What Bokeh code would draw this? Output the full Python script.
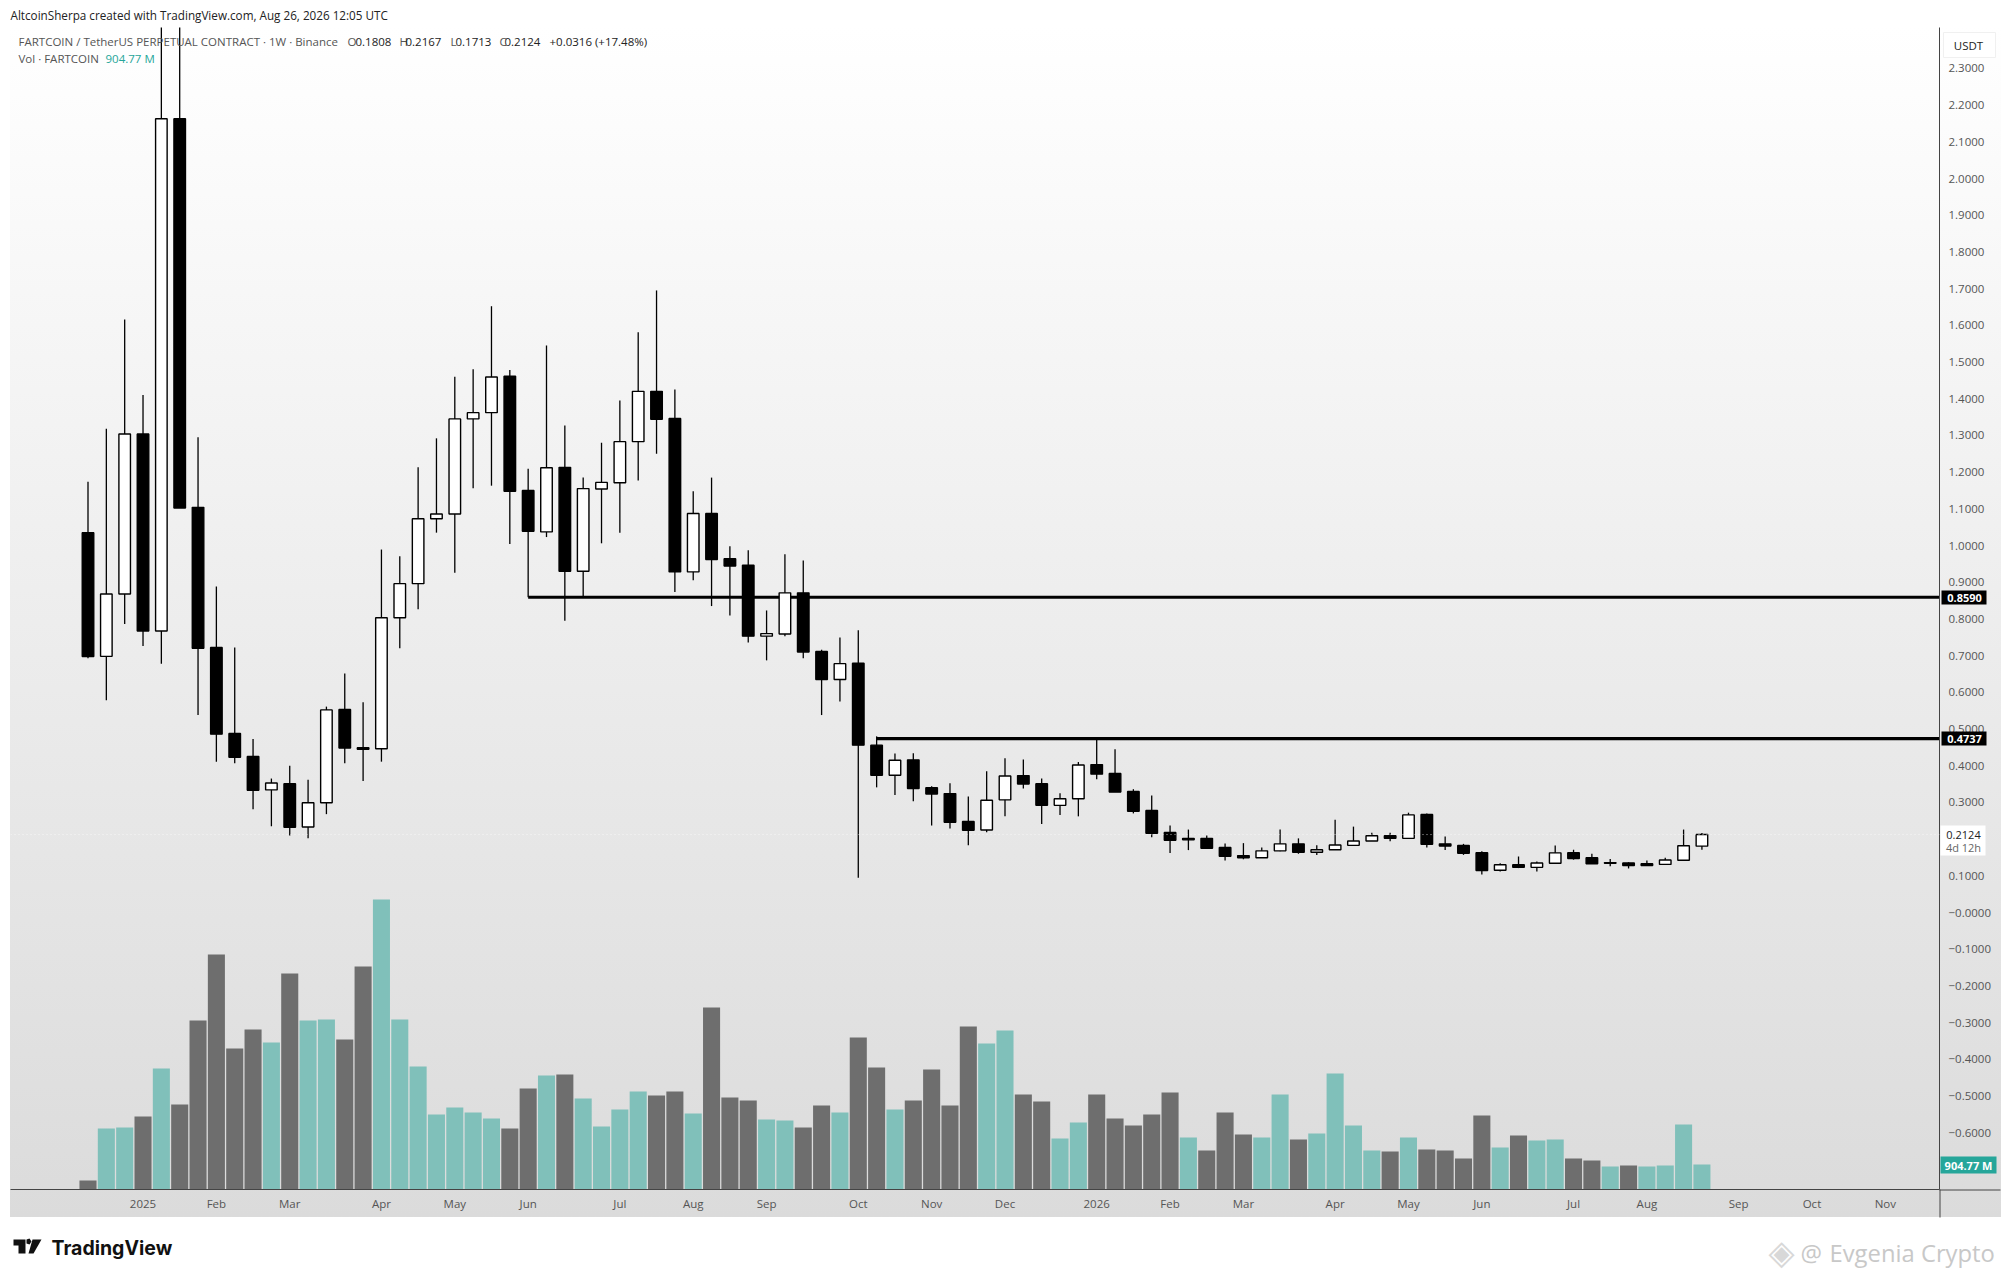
from bokeh.plotting import figure
from bokeh.models import Range1d, LinearAxis, FixedTicker, Label, BoxAnnotation, PolyAnnotation, Span, ColumnDataSource
from bokeh.embed import file_html
from bokeh.resources import INLINE

opens = [1.035,.698,.868,1.304,.767,2.163,1.104,.722,.488,.425,.334,.351,.233,.299,.553,.449,.446,.803,.896,1.073,
         1.086,1.345,1.362,1.461,1.15,1.037,1.213,.93,1.154,1.171,1.283,1.42,1.346,.928,1.087,.964,.946,.753,.759,.871,
         .711,.635,.679,.456,.374,.416,.34,.324,.248,.225,.307,.373,.351,.292,.31,.403,.379,.33,.278,.218,
         .202,.202,.177,.155,.149,.168,.187,.164,.171,.183,.195,.209,.202,.267,.187,.1826,.163,.115,.13,.123,
         .134,.163,.149,.136,.135,.133,.131,.1424,.1808]
highs = [1.174,1.318,1.616,1.41,2.5,2.5,1.295,.888,.722,.473,.365,.40,.362,.561,.651,.573,.989,.971,1.213,1.292,
         1.46,1.48,1.652,1.478,1.209,1.545,1.327,1.185,1.28,1.395,1.581,1.695,1.425,1.148,1.185,.998,.987,.823,.976,.959,
         .716,.749,.769,.48,.433,.434,.344,.352,.316,.385,.42,.417,.365,.325,.41,.475,.445,.336,.319,.237,
         .226,.21,.188,.189,.177,.226,.202,.183,.253,.234,.217,.217,.272,.27,.207,.187,.167,.134,.1526,.139,
         .1826,.171,.16,.146,.137,.142,.149,.226,.2167]
lows = [.693,.578,.786,.726,.678,1.102,.538,.411,.407,.281,.235,.21,.202,.268,.407,.358,.411,.72,.826,1.035,
        .926,1.156,1.163,1.004,.859,1.023,.795,.859,1.006,1.035,1.177,1.25,.873,.905,.835,.809,.736,.687,.753,.693,
        .538,.575,.095,.341,.32,.303,.237,.229,.183,.219,.262,.338,.241,.266,.262,.363,.328,.27,.205,.162,
        .17,.175,.142,.145,.149,.167,.16,.157,.171,.183,.195,.194,.202,.177,.17,.157,.1035,.112,.121,.112,
        .132,.144,.132,.126,.12,.128,.131,.1424,.1713]
closes = [.6975,.868,1.304,.767,2.163,1.102,.72,.486,.423,.333,.353,.232,.299,.552,.448,.445,.803,.896,1.073,1.086,
          1.345,1.362,1.459,1.148,1.039,1.212,.93,1.155,1.172,1.283,1.42,1.344,.928,1.087,.962,.944,.753,.76,.871,.71,
          .635,.678,.456,.374,.415,.338,.323,.246,.224,.306,.372,.35,.292,.31,.402,.377,.328,.276,.216,.197,
          .198,.175,.153,.149,.168,.187,.164,.171,.184,.195,.209,.202,.266,.186,.181,.1616,.1144,.13,.123,.135,
          .1626,.147,.133,.134,.128,.128,.143,.1817,.2124]

volumes_m = [326,2208,2244,2643,4380,3077,6118,8507,5104,5792,5321,7819,6118,6154,5430,8073,10498,6154,4453,2715,
             2968,2787,2570,2208,3656,4127,4163,3294,2281,2896,3548,3403,3548,2751,6588,3330,3222,2534,2498,2244,
             3041,2787,5502,4416,2896,3222,4344,3041,5901,5285,5756,3439,3186,1846,2425,3439,2570,2317,2715,3511,
             1882,1412,2787,1991,1882,3439,1810,2027,4199,2317,1412,1376,1882,1448,1412,1122,2679,1520,1955,1774,
             1810,1122,1050,833,869,833,869,2353,905]
vol_teal = [0,1,1,0,1,0,0,0,0,0,1,0,1,1,0,0,1,1,1,1,1,1,1,0,0,1,0,1,1,1,1,0,0,1,0,0,0,1,1,0,0,1,0,0,1,0,0,0,0,1,1,
            0,0,1,1,0,0,0,0,0,1,0,0,0,1,1,0,1,1,1,1,0,1,0,0,0,0,1,0,1,1,0,0,1,0,1,1,1,1]

month_pos = [3,7,11,16,20,24,29,33,37,42,46,50,55,59,63,68,72,76,81,85,90,94,98]
month_labels = ["2025","Feb","Mar","Apr","May","Jun","Jul","Aug","Sep","Oct","Nov","Dec","2026","Feb","Mar","Apr","May","Jun","Jul","Aug","Sep","Oct","Nov"]

price_ticks = [2.3,2.2,2.1,2.0,1.9,1.8,1.7,1.6,1.5,1.4,1.3,1.2,1.1,1.0,.9,.8,.7,.6,.5,.4,.3,.1,0.0,-.1,-.2,-.3,-.4,-.5,-.6]
price_labels = ["2.3000","2.2000","2.1000","2.0000","1.9000","1.8000","1.7000","1.6000","1.5000","1.4000","1.3000","1.2000",
                "1.1000","1.0000","0.9000","0.8000","0.7000","0.6000","0.5000","0.4000","0.3000","0.1000","\u22120.0000",
                "\u22120.1000","\u22120.2000","\u22120.3000","\u22120.4000","\u22120.5000","\u22120.6000"]
level_top = 0.4737
level_mid = 0.8590
last_price = 0.2124
last_volume = "904.77 M"

# pixel -> data helpers (page coordinates)
X = lambda px: (px - 87.5) / 18.34
Y = lambda py: (912 - py) / 367

FONT = "Open Sans"
TEAL, DARK = "#80c0ba", "#6e6e6e"
W, H, SHEET_W, SHEET_H = 2001, 1269, 2009, 1277

p = figure(width=W, height=H, output_backend="svg", toolbar_location=None,
           x_range=Range1d(X(10), X(1939)), y_range=Range1d(Y(1189), Y(27)),
           x_axis_location="below", y_axis_location=None,
           min_border_left=10, min_border_right=62, min_border_top=27, min_border_bottom=80,
           background_fill_color=None, border_fill_color=None, outline_line_color=None)
p.styles = {"background": "linear-gradient(#ffffff,#dbdbdb) no-repeat 10px 27px / 1991px 1190px"}
p.grid.visible = False
p.extra_y_ranges = {"vol": Range1d(0, 1162 * 36.19)}

ax = p.xaxis[0]
ax.ticker = FixedTicker(ticks=month_pos)
ax.major_label_overrides = {k: v for k, v in zip(month_pos, month_labels)}
ax.major_tick_line_color = None
ax.minor_tick_line_color = None
ax.major_tick_out = 0
ax.major_tick_in = 0
ax.axis_line_color = "#444444"
ax.major_label_text_font = FONT
ax.major_label_text_font_size = "11.5px"
ax.major_label_text_color = "#555555"
ax.major_label_standoff = 6

ay = LinearAxis(ticker=FixedTicker(ticks=price_ticks),
                major_label_overrides={k: v for k, v in zip(price_ticks, price_labels)},
                major_tick_line_color=None, minor_tick_line_color=None, major_tick_out=0, major_tick_in=0,
                axis_line_color="#444444", major_label_text_font=FONT,
                major_label_text_font_size="11.5px", major_label_text_color="#555555",
                major_label_standoff=9)
p.add_layout(ay, "right")

n = len(opens)
idx = list(range(n))
vsrc = ColumnDataSource(dict(x=idx, top=volumes_m, color=[TEAL if t else DARK for t in vol_teal]))
p.vbar(x="x", top="top", bottom=0, width=0.93, color="color", line_color=None, source=vsrc, y_range_name="vol")

# horizontal levels, beneath the candles
p.segment(x0=[24, 43], x1=[X(1939)] * 2, y0=[level_mid, level_top], y1=[level_mid, level_top],
          line_color="black", line_width=3.2)

p.segment(x0=idx, x1=idx, y0=lows, y1=highs, line_color="black", line_width=1.3)
csrc = ColumnDataSource(dict(x=idx, top=[max(a, b) for a, b in zip(opens, closes)],
                             bottom=[min(a, b) for a, b in zip(opens, closes)],
                             fill=["#ffffff" if c > o else "#000000" for o, c in zip(opens, closes)]))
p.vbar(x="x", top="top", bottom="bottom", width=0.63, fill_color="fill", line_color="black",
       line_width=1.4, source=csrc)

p.add_layout(Span(location=last_price, dimension="width", line_color="#ffffff", line_alpha=0.7,
                  line_dash="1 3", line_width=1))

# transparent sheet over the chart for page furniture: its frame is the whole window, one unit per pixel
o = figure(width=SHEET_W, height=SHEET_H, output_backend="svg", toolbar_location=None,
           x_range=Range1d(0, SHEET_W), y_range=Range1d(SHEET_H, 0), x_axis_location=None, y_axis_location=None,
           min_border=0, background_fill_color=None, border_fill_color=None, outline_line_color=None)
o.styles = {"position": "absolute", "left": "0px", "top": "0px"}
o.grid.visible = False

def box(x0, x1, y0, y1, color, alpha=1.0, line=None):
    o.add_layout(BoxAnnotation(left=x0, right=x1, top=y0, bottom=y1, fill_color=color, fill_alpha=alpha,
                               line_color=line, line_alpha=1.0 if line else 0))

def text(px, py, s, color="#555555", size="11.5px", align="left", style="normal", font=FONT):
    o.add_layout(Label(x=px, y=py, text=s, text_color=color, text_font_size=size, text_align=align,
                       text_baseline="middle", text_font=font, text_font_style=style))

# axis line extensions into the pane's margins
box(1939, 1940, 1189, 1217, "#444444")
box(1939, 2000, 1189, 1190, "#444444")

# price-scale tags
box(1943, 1995, 32, 57, "#ffffff", line="#f0f0f0")
text(1968, 45, "USDT", color="#222222", align="center")
box(1941, 1986, 590, 604, "#000000")
text(1964, 597, "0.8590", color="#ffffff", align="center", style="bold", size="11px")
box(1941, 1986, 731, 745, "#000000")
text(1964, 738, "0.4737", color="#ffffff", align="center", style="bold", size="11px")
box(1940, 1985, 825, 855, "#ffffff")
text(1963, 834, "0.2124", color="#222222", align="center", size="11px")
text(1963, 847, "4d 12h", color="#666666", align="center", size="11px")
box(1940, 1996, 1156, 1173, "#26a69a")
text(1968, 1165, last_volume, color="#ffffff", align="center", style="bold", size="11px")

# header lines
text(10, 14, "AltcoinSherpa created with TradingView.com, Aug 26, 2026 12:05 UTC", color="#222222", size="11.7px")
text(18, 41, "FARTCOIN / TetherUS PERPETUAL CONTRACT \u00b7 1W \u00b7 Binance")
for px, s, c in [(347, "O", "#555555"), (355, "0.1808", "#222222"), (399, "H", "#555555"), (405, "0.2167", "#222222"),
                 (450, "L", "#555555"), (455, "0.1713", "#222222"), (499, "C", "#555555"), (504, "0.2124", "#222222"),
                 (549, "+0.0316 (+17.48%)", "#222222")]:
    text(px, 41, s, color=c)
text(18, 58, "Vol \u00b7 FARTCOIN")
text(105, 58, last_volume, color="#26a69a")

# footer
text(51, 1247, "TradingView", color="#111111", size="19.5px", style="bold", font="Inter")
text(1800, 1252, "@", color="#c8c8c8", size="24px")
text(1829, 1252, "Evgenia Crypto", color="#c8c8c8", size="23.8px")
text(1781, 1251, "\u25c8", color="#d8d8d8", size="34px", font="DejaVu Sans", align="center")

def poly(xs, ys, color):
    o.add_layout(PolyAnnotation(xs=xs, ys=ys, fill_color=color, fill_alpha=1, line_color=None))
poly([13, 25, 25, 18, 18, 13], [1239, 1239, 1253, 1253, 1245, 1245], "#111111")
poly([32, 41, 33, 28], [1239, 1239, 1253, 1253], "#111111")
poly([26, 29, 31, 29, 26], [1239, 1238, 1241, 1244, 1243], "#111111")

open("out.html", "w").write(file_html([p, o], INLINE))
